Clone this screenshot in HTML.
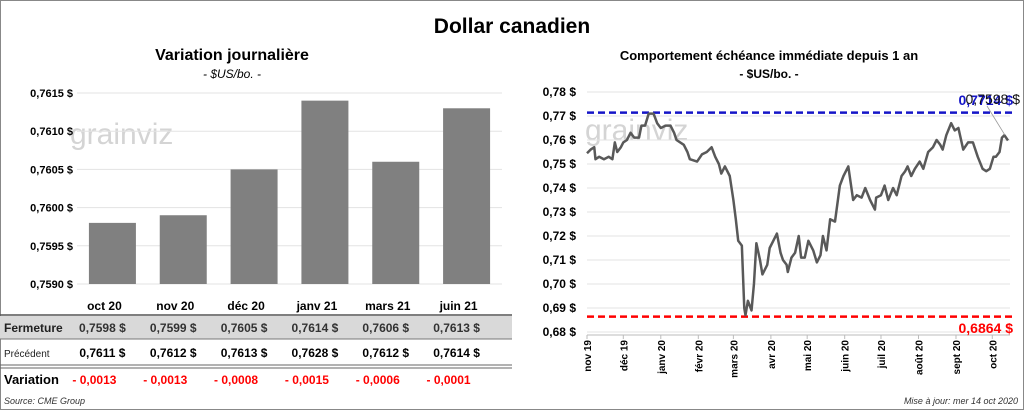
<!DOCTYPE html>
<html><head><meta charset="utf-8">
<style>
body{margin:0;width:1024px;height:410px;background:#fff;font-family:"Liberation Sans",sans-serif;overflow:hidden}
svg text{font-family:"Liberation Sans",sans-serif}
</style></head>
<body>
<svg id="s" width="1024" height="410">
<rect x="0.5" y="0.5" width="1023" height="409" fill="#fff" stroke="#888"/>
<text x="512" y="33" text-anchor="middle" font-size="21" font-weight="bold">Dollar canadien</text>
<text x="232" y="60" text-anchor="middle" font-size="16" font-weight="bold">Variation  journalière</text>
<text x="232" y="78" text-anchor="middle" font-size="12" font-style="italic">- $US/bo. -</text>
<text x="769" y="60" text-anchor="middle" font-size="13" font-weight="bold">Comportement échéance immédiate depuis 1 an</text>
<text x="769" y="78" text-anchor="middle" font-size="12" font-weight="bold">- $US/bo. -</text>
<text x="70" y="144" font-size="30" fill="#d4d4d4">grainviz</text>
<text x="585" y="140" font-size="30" fill="#d4d4d4">grainviz</text>
<g id="L"></g><g id="R"></g><g id="T"></g>
</svg>
<script>
const barCats=["oct 20","nov 20","déc 20","janv 21","mars 21","juin 21"];
const closeVals=[0.7598,0.7599,0.7605,0.7614,0.7606,0.7613];
const prevVals=[0.7611,0.7612,0.7613,0.7628,0.7612,0.7614];
const varLabels=["- 0,0013","- 0,0013","- 0,0008","- 0,0015","- 0,0006","- 0,0001"];
const leftTicks=[0.7590,0.7595,0.7600,0.7605,0.7610,0.7615];
const lineDays=[0,3,6,7,10,14,18,21,23,25,28,30,33,36,39,43,45,48,51,55,58,61,65,69,72,74,80,83,85,91,95,99,103,106,109,111,114,118,121,123,125,128,130,131,133,136,138,140,143,145,149,151,154,157,160,162,165,166,169,172,175,177,180,183,187,190,193,195,198,201,205,209,212,216,218,220,223,227,230,234,238,239,243,246,249,253,256,260,263,265,268,271,275,278,282,286,289,292,294,297,301,304,307,311,315,319,323,327,330,333,336,338,341,343,345,348];
const lineVals=[0.7545,0.756,0.757,0.752,0.753,0.752,0.753,0.752,0.759,0.755,0.757,0.759,0.760,0.763,0.761,0.761,0.766,0.766,0.771,0.771,0.767,0.765,0.766,0.766,0.763,0.760,0.758,0.755,0.752,0.751,0.754,0.755,0.757,0.753,0.750,0.746,0.749,0.745,0.735,0.727,0.718,0.716,0.690,0.687,0.693,0.689,0.700,0.717,0.710,0.704,0.708,0.715,0.718,0.721,0.713,0.710,0.708,0.705,0.711,0.713,0.720,0.711,0.711,0.718,0.714,0.709,0.712,0.720,0.714,0.727,0.726,0.741,0.745,0.749,0.742,0.735,0.737,0.736,0.740,0.735,0.731,0.736,0.737,0.741,0.735,0.740,0.737,0.745,0.747,0.749,0.745,0.748,0.751,0.748,0.755,0.757,0.760,0.758,0.756,0.762,0.767,0.764,0.765,0.756,0.759,0.759,0.753,0.748,0.747,0.748,0.753,0.753,0.755,0.761,0.762,0.7598];
const rightTicks=[0.68,0.69,0.70,0.71,0.72,0.73,0.74,0.75,0.76,0.77,0.78];
const monthLabels=["nov 19","déc 19","janv 20","févr 20","mars 20","avr 20","mai 20","juin 20","juil 20","août 20","sept 20","oct 20"];
const monthDays=[0,30,61,92,121,152,182,213,243,274,305,335];
const highVal=0.7714, lowVal=0.6864, lastVal=0.7598;

const NS="http://www.w3.org/2000/svg";
function mk(p,t,a,txt){const e=document.createElementNS(NS,t);for(const k in a)e.setAttribute(k,a[k]);if(txt!=null)e.textContent=txt;p.appendChild(e);return e;}
const fmt=(v,d)=>v.toFixed(d).replace('.',',');

// left bar chart
const L=document.getElementById('L');
const lx0=77,lx1=502,ly=v=>284-(v-0.7590)/0.0025*191;
const bw=(lx1-lx0)/barCats.length;
leftTicks.forEach(v=>{
  const g=mk(L,'line',{x1:lx0,x2:lx1,y1:ly(v),y2:ly(v),stroke:'#e3e3e3'});
  
  const t=mk(L,'text',{x:73,y:ly(v)+4,'text-anchor':'end','font-size':11,'font-weight':'bold'},fmt(v,4)+' $');
  
});
closeVals.forEach((v,i)=>{
  const cx=lx0+bw*(i+0.5);
  const r=mk(L,'rect',{x:cx-23.5,y:ly(v),width:47,height:284-ly(v),fill:'#808080'});
  
});

// table
const T=document.getElementById('T');
mk(T,'line',{x1:0,x2:512,y1:315,y2:315,stroke:'#555','stroke-width':1.5});
const band=mk(T,'rect',{x:0,y:316,width:512,height:23,fill:'#d9d9d9'});

mk(T,'line',{x1:0,x2:512,y1:339,y2:339,stroke:'#777'});
mk(T,'line',{x1:0,x2:512,y1:365,y2:365,stroke:'#666'});
mk(T,'line',{x1:0,x2:512,y1:368,y2:368,stroke:'#666'});
[['Fermeture',332,12,'bold','#222'],['Précédent',357,10,'normal','#222'],['Variation',384,13,'bold','#000']].forEach(r=>{
  const t=mk(T,'text',{x:4,y:r[1],'font-size':r[2],'font-weight':r[3],fill:r[4]},r[0]);
  
});
barCats.forEach((c,i)=>{
  const cx=lx0+bw*(i+0.5);
  const h=mk(T,'text',{x:cx-8,y:310,'text-anchor':'middle','font-size':12,'font-weight':'bold'},c);
  
  const a=mk(T,'text',{x:cx-10,y:332,'text-anchor':'middle','font-size':12,'font-weight':'bold',fill:'#333'},fmt(closeVals[i],4)+'  $');
  
  const b=mk(T,'text',{x:cx-10,y:357,'text-anchor':'middle','font-size':12,'font-weight':'bold'},fmt(prevVals[i],4)+'  $');
  
  const d=mk(T,'text',{x:cx-18,y:384,'text-anchor':'middle','font-size':12,'font-weight':'bold',fill:'#ff0000'},varLabels[i]);
  
});
const src=mk(T,'text',{x:4,y:404,'font-size':9,'font-style':'italic',fill:'#333'},'Source: CME Group');

const upd=mk(T,'text',{x:1018,y:404,'font-size':9,'font-style':'italic','text-anchor':'end',fill:'#333'},'Mise à jour: mer 14 oct 2020');


// right line chart
const R=document.getElementById('R');
const rx0=587,rx1=1008,rx=d=>rx0+d/348*(rx1-rx0),ry=v=>332-(v-0.68)/0.1*240;
rightTicks.forEach(v=>{
  const g=mk(R,'line',{x1:rx0,x2:1010,y1:ry(v),y2:ry(v),stroke:'#e3e3e3'});
  
  const t=mk(R,'text',{x:576,y:ry(v)+4,'text-anchor':'end','font-size':12,'font-weight':'bold'},fmt(v,2)+' $');
  
});
mk(R,'line',{x1:rx0,x2:1010,y1:335,y2:335,stroke:'#bbb'});
monthDays.forEach((d,i)=>{
  mk(R,'line',{x1:rx(d),x2:rx(d),y1:335,y2:339,stroke:'#bbb'});
  const t=mk(R,'text',{transform:`translate(${rx(d)+4},340) rotate(-90)`,'text-anchor':'end','font-size':10,'font-weight':'bold'},monthLabels[i]);
  
});
const hl=mk(R,'line',{x1:rx0,x2:1012,y1:ry(highVal),y2:ry(highVal),stroke:'#1515c8','stroke-width':2.5,'stroke-dasharray':'7,4'});

const ll=mk(R,'line',{x1:rx0,x2:1012,y1:ry(lowVal),y2:ry(lowVal),stroke:'#ff0000','stroke-width':2.5,'stroke-dasharray':'7,4'});

const p=mk(R,'polyline',{points:lineDays.map((d,i)=>rx(d)+','+ry(lineVals[i])).join(' '),fill:'none',stroke:'#595959','stroke-width':2.5,'stroke-linejoin':'round'});

mk(R,'line',{x1:987,y1:106,x2:1005,y2:ry(0.762),stroke:'#999','stroke-width':0.8});
const hv=mk(R,'text',{x:1013,y:105,'text-anchor':'end','font-size':14,'font-weight':'bold',fill:'#1515c8'},fmt(highVal,4)+' $');

const lv=mk(R,'text',{x:1020,y:104,'text-anchor':'end','font-size':14,fill:'#111'},fmt(lastVal,4)+' $');

const lo=mk(R,'text',{x:1013,y:333,'text-anchor':'end','font-size':14,'font-weight':'bold',fill:'#ff0000'},fmt(lowVal,4)+' $');

</script>
</body></html>
